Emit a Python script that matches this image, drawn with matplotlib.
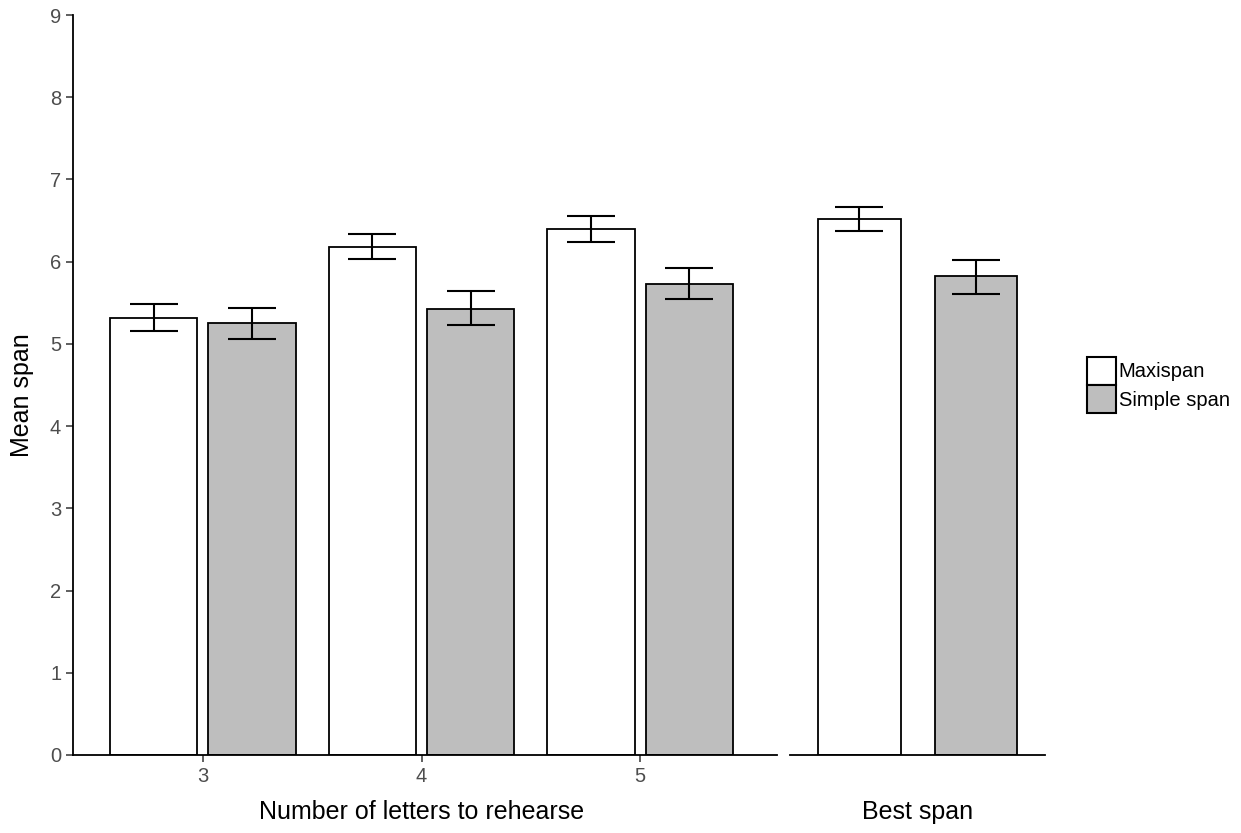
import matplotlib.pyplot as plt
from matplotlib.patches import Patch

plt.rcParams['font.family'] = ['Liberation Sans', 'DejaVu Sans']

# data
letters = [3, 4, 5]
maxi_mean = [5.32, 6.18, 6.40]
maxi_lo = [5.16, 6.03, 6.24]
maxi_hi = [5.48, 6.34, 6.56]
simple_mean = [5.25, 5.43, 5.73]
simple_lo = [5.06, 5.23, 5.54]
simple_hi = [5.44, 5.64, 5.92]

best_labels = ["Maxispan", "Simple span"]
best_mean = [6.52, 5.82]
best_lo = [6.37, 5.61]
best_hi = [6.66, 6.02]

grey_fill = "#BEBEBE"
tick_col = "#4D4D4D"

fig = plt.figure(figsize=(12.41, 8.33), dpi=100)
ax1 = fig.add_axes([73 / 1241, 1 - 755 / 833, (777 - 73) / 1241, (755 - 15) / 833])
ax2 = fig.add_axes([790 / 1241, 1 - 755 / 833, (1045 - 790) / 1241, (755 - 15) / 833])


def err(lo, hi, m):
    return [[m_ - l for m_, l in zip(m, lo)], [h - m_ for m_, h in zip(m, hi)]]


# left panel
off = 0.225
w = 0.40
cap = 17
xm = [x - off for x in letters]
xs = [x + off for x in letters]
ax1.bar(xm, maxi_mean, width=w, color="white", edgecolor="black", linewidth=1.3, zorder=2)
ax1.bar(xs, simple_mean, width=w, color=grey_fill, edgecolor="black", linewidth=1.3, zorder=2)
ax1.errorbar(xm, maxi_mean, yerr=err(maxi_lo, maxi_hi, maxi_mean), fmt="none",
             ecolor="black", elinewidth=1.5, capsize=cap, capthick=1.5, zorder=3)
ax1.errorbar(xs, simple_mean, yerr=err(simple_lo, simple_hi, simple_mean), fmt="none",
             ecolor="black", elinewidth=1.5, capsize=cap, capthick=1.5, zorder=3)
ax1.set_xlim(2.406, 5.626)
ax1.set_ylim(0, 9)
ax1.set_xticks(letters)
ax1.set_xticklabels([str(v) for v in letters])
ax1.set_yticks(range(10))
for s in ["top", "right"]:
    ax1.spines[s].set_visible(False)
for s in ["left", "bottom"]:
    ax1.spines[s].set_linewidth(1.3)
ax1.tick_params(labelsize=14.5, labelcolor=tick_col, length=5, width=1.1, color="#333333")

# right panel
xb = [1 - 0.275, 1 + 0.275]
ax2.bar(xb[0], best_mean[0], width=0.39, color="white", edgecolor="black", linewidth=1.3, zorder=2)
ax2.bar(xb[1], best_mean[1], width=0.39, color=grey_fill, edgecolor="black", linewidth=1.3, zorder=2)
ax2.errorbar(xb, best_mean, yerr=err(best_lo, best_hi, best_mean), fmt="none",
             ecolor="black", elinewidth=1.5, capsize=cap, capthick=1.5, zorder=3)
ax2.set_xlim(0.4, 1.6)
ax2.set_ylim(0, 9)
ax2.set_xticks([])
ax2.set_yticks([])
for s in ["top", "right", "left"]:
    ax2.spines[s].set_visible(False)
ax2.spines["bottom"].set_linewidth(1.3)

# axis titles
fig.text(422 / 1241, 1 - 812 / 833, "Number of letters to rehearse", fontsize=18,
         ha="center", va="center")
fig.text(918 / 1241, 1 - 812 / 833, "Best span", fontsize=18, ha="center", va="center")
fig.text(22 / 1241, 1 - 395 / 833, "Mean span", fontsize=18, rotation=90,
         ha="center", va="center")

handles = [Patch(facecolor="white", edgecolor="black", linewidth=1.5, label=best_labels[0]),
           Patch(facecolor=grey_fill, edgecolor="black", linewidth=1.5, label=best_labels[1])]
fig.legend(handles=handles, loc="center left", bbox_to_anchor=(1077 / 1241, 1 - 385 / 833),
           frameon=False, fontsize=14.5, handlelength=1.45, handleheight=1.75,
           handletextpad=0.12, labelspacing=0.02, borderpad=0)

fig.savefig("out.png", dpi=100)
